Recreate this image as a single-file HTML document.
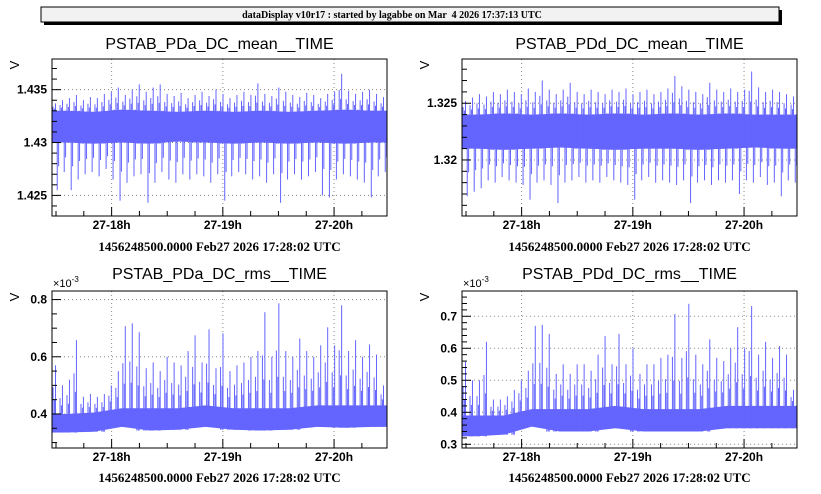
<!DOCTYPE html>
<html><head><meta charset="utf-8"><style>
html,body{margin:0;padding:0;background:#fff;}
svg{display:block;}
</style></head><body>
<svg id="c" width="821" height="494" xmlns="http://www.w3.org/2000/svg">
<g>
<rect x="44" y="10" width="738" height="15" fill="#000"/>
<rect x="41" y="7" width="738" height="15" fill="#f2f2f2" stroke="#000" stroke-width="1"/>
<text x="392" y="18" text-anchor="middle" font-family="Liberation Serif, serif" font-weight="bold" font-size="10" fill="#000" xml:space="preserve">dataDisplay v10r17 : started by lagabbe on Mar  4 2026 17:37:13 UTC</text>
</g>
</svg>
<script>
// shared time axis (decimal hours, Feb 27)
const tStart = 17.464, tEnd = 20.476;
const xTickHours = [18, 19, 20];
const xTickLabels = ["27-18h", "27-19h", "27-20h"];

// Panel 1: PSTAB_PDa_DC_mean
const p1Max = [1.4337,1.4340,1.4342,1.4345,1.4340,1.4343,1.4342,1.4346,1.4348,1.4352,1.4345,1.4350,1.4355,1.4348,1.4352,1.4355,1.4346,1.4344,1.4347,1.4342,1.4345,1.4348,1.4344,1.4350,1.4346,1.4342,1.4345,1.4348,1.4345,1.4356,1.4346,1.4344,1.4352,1.4348,1.4345,1.4343,1.4347,1.4345,1.4342,1.4346,1.4348,1.4365,1.4349,1.4346,1.4348,1.4350,1.4346,1.4343];
const p1Min = [1.4255,1.4272,1.4255,1.4265,1.4270,1.4272,1.4268,1.4275,1.4265,1.4245,1.4262,1.4268,1.4270,1.4243,1.4262,1.4272,1.4265,1.4262,1.4270,1.4265,1.4270,1.4268,1.4262,1.4270,1.4245,1.4268,1.4272,1.4270,1.4265,1.4268,1.4262,1.4270,1.4243,1.4265,1.4270,1.4265,1.4268,1.4272,1.4250,1.4248,1.4265,1.4270,1.4268,1.4265,1.4262,1.4248,1.4268,1.4272];
const p1BandLo = [1.4300,1.4299,1.4300,1.4299,1.4301,1.4300,1.4299,1.4300,1.4299,1.4300,1.4299,1.4300];
const p1BandHi = [1.4330,1.4329,1.4331,1.4330,1.4329,1.4330,1.4329,1.4330,1.4329,1.4330,1.4331,1.4330];
const p1YTicks = [1.425, 1.430, 1.435];
const p1YLabels = ["1.425", "1.43", "1.435"];

// Panel 2: PSTAB_PDd_DC_mean
const p2Max = [1.3252,1.3255,1.3258,1.3256,1.3260,1.3258,1.3262,1.3260,1.3258,1.3263,1.3260,1.3270,1.3262,1.3258,1.3262,1.3268,1.3260,1.3258,1.3262,1.3260,1.3258,1.3262,1.3260,1.3263,1.3258,1.3260,1.3262,1.3258,1.3260,1.3263,1.3274,1.3265,1.3262,1.3260,1.3258,1.3268,1.3262,1.3260,1.3263,1.3260,1.3262,1.3278,1.3264,1.3260,1.3262,1.3260,1.3258,1.3256];
const p2Min = [1.3168,1.3172,1.3175,1.3182,1.3180,1.3185,1.3182,1.3180,1.3178,1.3165,1.3180,1.3182,1.3178,1.3162,1.3180,1.3182,1.3185,1.3180,1.3182,1.3180,1.3185,1.3182,1.3180,1.3178,1.3165,1.3182,1.3185,1.3180,1.3182,1.3180,1.3178,1.3182,1.3162,1.3180,1.3182,1.3178,1.3182,1.3180,1.3182,1.3170,1.3182,1.3180,1.3185,1.3178,1.3180,1.3168,1.3182,1.3180];
const p2BandLo = [1.3210,1.3209,1.3210,1.3211,1.3210,1.3209,1.3210,1.3210,1.3209,1.3210,1.3211,1.3210];
const p2BandHi = [1.3240,1.3241,1.3240,1.3241,1.3240,1.3241,1.3240,1.3241,1.3240,1.3241,1.3240,1.3240];
const p2YTicks = [1.320, 1.325];
const p2YLabels = ["1.32", "1.325"];

// Panel 3: PSTAB_PDa_DC_rms (x1e-3)
const p3Max = [0.57,0.50,0.52,0.658,0.46,0.47,0.46,0.47,0.50,0.55,0.707,0.717,0.686,0.56,0.58,0.55,0.60,0.58,0.57,0.62,0.675,0.58,0.696,0.56,0.682,0.55,0.57,0.58,0.60,0.62,0.756,0.60,0.787,0.62,0.60,0.664,0.62,0.60,0.64,0.703,0.64,0.78,0.62,0.658,0.60,0.643,0.608,0.50];
const p3BandLo = [0.335,0.338,0.355,0.342,0.345,0.355,0.345,0.342,0.345,0.355,0.352,0.355];
const p3BandHi = [0.40,0.405,0.42,0.42,0.42,0.43,0.42,0.42,0.42,0.43,0.43,0.43];
const p3YTicks = [0.4, 0.6, 0.8];
const p3YLabels = ["0.4", "0.6", "0.8"];

// Panel 4: PSTAB_PDd_DC_rms (x1e-3)
const p4Max = [0.558,0.50,0.50,0.62,0.44,0.44,0.45,0.47,0.50,0.53,0.67,0.673,0.645,0.52,0.55,0.52,0.55,0.55,0.53,0.58,0.638,0.55,0.645,0.55,0.60,0.52,0.55,0.55,0.57,0.58,0.707,0.57,0.739,0.58,0.55,0.628,0.57,0.56,0.60,0.666,0.60,0.732,0.58,0.62,0.57,0.607,0.58,0.47];
const p4BandLo = [0.325,0.33,0.355,0.34,0.34,0.35,0.34,0.34,0.34,0.35,0.35,0.35];
const p4BandHi = [0.39,0.39,0.41,0.41,0.41,0.42,0.41,0.41,0.41,0.42,0.42,0.42];
const p4YTicks = [0.3, 0.4, 0.5, 0.6, 0.7];
const p4YLabels = ["0.3", "0.4", "0.5", "0.6", "0.7"];

const NS = "http://www.w3.org/2000/svg";
const svg = document.getElementById('c');
function mk(tag, attrs, parent) {
  const e = document.createElementNS(NS, tag);
  for (const k in attrs) e.setAttribute(k, attrs[k]);
  parent.appendChild(e);
  return e;
}
const COL = "#6464ff";

function panel(cfg) {
  const g = mk('g', {}, svg);
  
  
  const L = cfg.x0, R = cfg.x1, T = cfg.y0, B = cfg.y1;
  const xs = h => L + (h - tStart) / (tEnd - tStart) * (R - L);
  const ys = v => B - (v - cfg.vmin) / (cfg.vmax - cfg.vmin) * (B - T);
  const tt = mk('text', {x: (L + R) / 2, y: cfg.titleY, 'text-anchor': 'middle', 'font-family': 'Liberation Sans, sans-serif', 'font-size': '16', fill: '#000'}, g);
  tt.textContent = cfg.title;
  
  
  const grid = mk('g', {stroke: '#888', 'stroke-width': '1', 'stroke-dasharray': '1,3'}, g);
  
  
  xTickHours.forEach(h => mk('line', {x1: xs(h), x2: xs(h), y1: T, y2: B}, grid));
  cfg.yTicks.forEach(v => mk('line', {x1: L, x2: R, y1: ys(v), y2: ys(v)}, grid));
  const dg = mk('g', {}, g);
  
  
  const clipId = cfg.name + '-clip';
  const cp = mk('clipPath', {id: clipId}, dg);
  mk('rect', {x: L, y: T, width: R - L, height: B - T}, cp);
  dg.setAttribute('clip-path', 'url(#' + clipId + ')');
  const n = cfg.max.length, bw = (tEnd - tStart) / n;
  const nb = cfg.bandLo.length, sw = (tEnd - tStart) / nb;
  // smooth band polygon through segment centres
  let pts = [xs(tStart) + ',' + ys(cfg.bandHi[0])];
  for (let j = 0; j < nb; j++) pts.push(xs(tStart + (j + 0.5) * sw) + ',' + ys(cfg.bandHi[j]));
  pts.push(xs(tEnd) + ',' + ys(cfg.bandHi[nb - 1]));
  pts.push(xs(tEnd) + ',' + ys(cfg.bandLo[nb - 1]));
  for (let j = nb - 1; j >= 0; j--) pts.push(xs(tStart + (j + 0.5) * sw) + ',' + ys(cfg.bandLo[j]));
  pts.push(xs(tStart) + ',' + ys(cfg.bandLo[0]));
  const band = mk('polygon', {points: pts.join(' '), fill: COL}, dg);
  
  
  const mid = (cfg.bandLo[0] + cfg.bandHi[0]) / 2;
  for (let i = 0; i < n; i++) {
    const j = Math.floor(i * nb / n);
    const bh = cfg.bandHi[j], bl = cfg.bandLo[j];
    const h = tStart + (i + 0.5) * bw;
    const ln = mk('line', {x1: xs(h), x2: xs(h), y1: ys(bl), y2: ys(cfg.max[i]), stroke: COL, 'stroke-width': '1'}, dg);
    
    
    const h2 = tStart + (i + 0.15) * bw;
    const ln3 = mk('line', {x1: xs(h2), x2: xs(h2), y1: ys(bl), y2: ys(bh + (cfg.max[i] - bh) * 0.55), stroke: COL, 'stroke-width': '1'}, dg);
    
    
    const h4 = tStart + (i + 0.35) * bw;
    const ln4 = mk('line', {x1: xs(h4), x2: xs(h4), y1: ys(bl), y2: ys(bh + (cfg.max[i] - bh) * 0.3), stroke: COL, 'stroke-width': '1'}, dg);
    
    
    if (cfg.min) {
      const h3 = tStart + (i + 0.75) * bw;
      const ln2 = mk('line', {x1: xs(h3), x2: xs(h3), y1: ys(bh), y2: ys(cfg.min[i]), stroke: COL, 'stroke-width': '1'}, dg);
      
      
      const h5 = tStart + (i + 0.95) * bw;
      const ln5 = mk('line', {x1: xs(h5), x2: xs(h5), y1: ys(bh), y2: ys(bl + (cfg.min[i] - bl) * 0.5), stroke: COL, 'stroke-width': '1'}, dg);
      
      
    }
  }
  const fr = mk('rect', {x: L, y: T, width: R - L, height: B - T, fill: 'none', stroke: '#000', 'stroke-width': '1'}, g);
  
  
  const xa = mk('g', {stroke: '#000', 'stroke-width': '1'}, g);
  
  
  for (let m = Math.ceil(tStart * 4); m / 4 <= tEnd; m++) {
    const h = m / 4, major = (m % 4 === 0);
    mk('line', {x1: xs(h), x2: xs(h), y1: B, y2: B - (major ? 9 : 5)}, xa);
  }
  xTickHours.forEach((h, k) => {
    const t = mk('text', {x: xs(h), y: B + 13, 'text-anchor': 'middle', 'font-family': 'Liberation Sans, sans-serif', 'font-weight': 'bold', 'font-size': '12', fill: '#000', stroke: 'none'}, xa);
    t.textContent = xTickLabels[k];
    
    
  });
  const ya = mk('g', {stroke: '#000', 'stroke-width': '1'}, g);
  
  
  const step = cfg.minor;
  for (let k = Math.ceil(cfg.vmin / step - 1e-6); k * step <= cfg.vmax + 1e-9; k++) {
    const v = k * step;
    const major = cfg.yTicks.some(t => Math.abs(t - v) < step / 10);
    mk('line', {x1: L, x2: L + (major ? 9 : 5), y1: ys(v), y2: ys(v)}, ya);
  }
  cfg.yTicks.forEach((v, k) => {
    const t = mk('text', {x: L - 5, y: ys(v) + 4, 'text-anchor': 'end', 'font-family': 'Liberation Sans, sans-serif', 'font-weight': 'bold', 'font-size': '12', fill: '#000', stroke: 'none'}, ya);
    t.textContent = cfg.yLabels[k];
    
    
  });
  const yt = mk('text', {x: L - 33, y: T + 6, 'font-family': 'Liberation Sans, sans-serif', 'font-size': '13', fill: '#000', transform: 'rotate(-90 ' + (L - 33) + ' ' + (T + 6) + ')', 'text-anchor': 'middle'}, g);
  yt.textContent = 'V';
  
  
  if (cfg.exp) {
    const ex = mk('text', {x: L + 1, y: T - 4, 'font-family': 'Liberation Sans, sans-serif', 'font-size': '11', fill: '#000'}, g);
    ex.innerHTML = '×10<tspan dy="-5" font-size="8">-3</tspan>';
    
    
  }
  const bl = mk('text', {x: (L + R) / 2, y: cfg.bottomY, 'text-anchor': 'middle', 'font-family': 'Liberation Serif, serif', 'font-weight': 'bold', 'font-size': '13', fill: '#000'}, g);
  bl.textContent = '1456248500.0000 Feb27 2026 17:28:02 UTC';
  
  
}

panel({name: 'panel-pda-mean', title: 'PSTAB_PDa_DC_mean__TIME', x0: 52, x1: 387, y0: 59, y1: 216, vmin: 1.42305, vmax: 1.4379, titleY: 49, bottomY: 251,
  max: p1Max, min: p1Min, bandLo: p1BandLo, bandHi: p1BandHi, yTicks: p1YTicks, yLabels: p1YLabels, minor: 0.001});
panel({name: 'panel-pdd-mean', title: 'PSTAB_PDd_DC_mean__TIME', x0: 462, x1: 797, y0: 59, y1: 216, vmin: 1.31506, vmax: 1.3289, titleY: 49, bottomY: 251,
  max: p2Max, min: p2Min, bandLo: p2BandLo, bandHi: p2BandHi, yTicks: p2YTicks, yLabels: p2YLabels, minor: 0.001});
panel({name: 'panel-pda-rms', title: 'PSTAB_PDa_DC_rms__TIME', x0: 52, x1: 387, y0: 291, y1: 448, vmin: 0.281, vmax: 0.830, titleY: 279, bottomY: 482, exp: true,
  max: p3Max, bandLo: p3BandLo, bandHi: p3BandHi, yTicks: p3YTicks, yLabels: p3YLabels, minor: 0.05});
panel({name: 'panel-pdd-rms', title: 'PSTAB_PDd_DC_rms__TIME', x0: 462, x1: 797, y0: 291, y1: 448, vmin: 0.2884, vmax: 0.779, titleY: 279, bottomY: 482, exp: true,
  max: p4Max, bandLo: p4BandLo, bandHi: p4BandHi, yTicks: p4YTicks, yLabels: p4YLabels, minor: 0.02});
</script>
</body></html>
